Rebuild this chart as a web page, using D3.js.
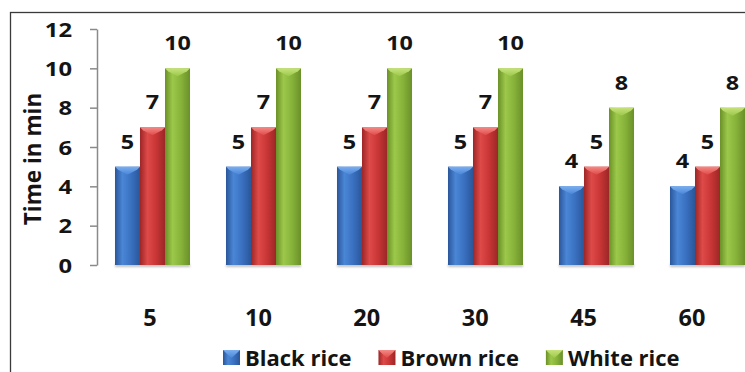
<!DOCTYPE html>
<html>
<head>
<meta charset="utf-8">
<script src="https://cdn.jsdelivr.net/npm/d3@7"></script>
<style>
  html, body { margin: 0; padding: 0; background: #fff; }
  svg { display: block; }
  text { font-family: "Open Sans", "DejaVu Sans", sans-serif; font-weight: 700; fill: #141414; }
</style>
</head>
<body>
<svg id="chart" width="745" height="372"></svg>
<script>
// Cooking time per soaking period, by rice type
const categories = ["5", "10", "20", "30", "45", "60"];
const seriesNames = ["Black rice", "Brown rice", "White rice"];
const blackRice = [5, 5, 5, 5, 4, 4];
const brownRice = [7, 7, 7, 7, 5, 5];
const whiteRice = [10, 10, 10, 10, 8, 8];
const yTicks = [0, 2, 4, 6, 8, 10, 12];
const axisTitle = "Time in min";

// dark edge, highlight, body, bevel cap
const palettes = [
  ["#2a5699", "#4a86d6", "#3a70c0", "#7aaef0"],
  ["#9c2626", "#de4a48", "#c83535", "#f58a86"],
  ["#6a9028", "#9cc84a", "#86b23a", "#c6e27a"]
];

const seriesValues = [blackRice, brownRice, whiteRice];
const rows = categories.map((c, i) => ({
  cat: c,
  values: seriesNames.map((s, k) => ({ series: s, k, value: seriesValues[k][i] }))
}));

const svg = d3.select("#chart");
const defs = svg.append("defs");

palettes.forEach((p, k) => {
  const g = defs.append("linearGradient").attr("id", "bar" + k)
    .attr("x1", 0).attr("x2", 1).attr("y1", 0).attr("y2", 0);
  g.append("stop").attr("offset", "0%").attr("stop-color", p[0]);
  g.append("stop").attr("offset", "30%").attr("stop-color", p[1]);
  g.append("stop").attr("offset", "65%").attr("stop-color", p[2]);
  g.append("stop").attr("offset", "100%").attr("stop-color", p[0]);
  const c = defs.append("linearGradient").attr("id", "cap" + k)
    .attr("x1", 0).attr("x2", 0).attr("y1", 0).attr("y2", 1);
  c.append("stop").attr("offset", "0%").attr("stop-color", p[3]);
  c.append("stop").attr("offset", "100%").attr("stop-color", p[1]);
});

const blur = defs.append("filter").attr("id", "soft")
  .attr("x", "-10%").attr("y", "-50%").attr("width", "120%").attr("height", "200%");
blur.append("feGaussianBlur").attr("stdDeviation", 1.2);

// Scales
const x = d3.scaleBand().domain(categories).range([97, 763])
  .paddingInner(0.324).paddingOuter(0.162);
const xs = d3.scaleBand().domain(seriesNames).range([0, x.bandwidth()]).padding(0);
const xLabel = d3.scalePoint().domain(categories).range([150, 692]);
const y = d3.scaleLinear().domain([0, 12]).range([265, 29]);

// Chart frame
svg.append("rect")
  .attr("x", 10.5).attr("y", 12.5).attr("width", 800).attr("height", 400)
  .attr("fill", "none").attr("stroke", "#3a3a3a").attr("stroke-width", 1.3);

// Y axis
const yAxis = svg.append("g").attr("transform", "translate(97,0)")
  .call(d3.axisLeft(y).tickValues(yTicks).tickSize(7).tickSizeOuter(0).tickFormat(d3.format("d")));
yAxis.select(".domain").attr("stroke", "#8a8a8a").attr("stroke-width", 1.5);
yAxis.selectAll(".tick line").attr("stroke", "#8a8a8a").attr("stroke-width", 1.5);
yAxis.selectAll(".tick text")
  .attr("x", 0).attr("dy", null)
  .attr("transform", "translate(-25,7) scale(1.22,1)")
  .attr("font-size", 19.5)
  .style("font-family", "'Open Sans', sans-serif").style("font-weight", 700)
  .attr("fill", "#141414");

// Axis title
svg.append("text")
  .attr("transform", `translate(41,${(y(0) + y(12)) / 2 + 12}) rotate(-90)`)
  .attr("text-anchor", "middle").attr("font-size", 22.5)
  .text(axisTitle);

// Bars
const groups = svg.append("g").selectAll("g.grp").data(rows).join("g")
  .attr("class", "grp")
  .attr("transform", d => `translate(${x(d.cat)},0)`);

// soft floor shadow under each group
groups.append("rect")
  .attr("x", 0).attr("y", y(0) - 1).attr("width", x.bandwidth()).attr("height", 3)
  .attr("fill", "#999").attr("opacity", 0.6).attr("filter", "url(#soft)");

const bars = groups.selectAll("g.bar").data(d => d.values).join("g").attr("class", "bar");

bars.append("rect")
  .attr("x", d => xs(d.series))
  .attr("y", d => y(d.value))
  .attr("width", xs.bandwidth())
  .attr("height", d => y(0) - y(d.value))
  .attr("fill", d => `url(#bar${d.k})`);

// bevelled cap on each bar top
bars.append("path")
  .attr("d", d => {
    const x0 = xs(d.series), w = xs.bandwidth(), t = y(d.value);
    return `M${x0},${t} L${x0 + w},${t} L${x0 + w - 3},${t + 3} L${x0 + w / 2},${t + 8} L${x0 + 3},${t + 3} Z`;
  })
  .attr("fill", d => `url(#cap${d.k})`);

// Value labels
bars.append("text")
  .attr("transform", d => `translate(${xs(d.series) + xs.bandwidth() / 2},${y(d.value) - 18}) scale(1.2,1)`)
  .attr("text-anchor", "middle").attr("font-size", 19.5)
  .text(d => d.value);

// Category labels
svg.append("g").selectAll("text").data(categories).join("text")
  .attr("x", d => xLabel(d)).attr("y", 326)
  .attr("text-anchor", "middle").attr("font-size", 23.5)
  .text(d => d);

// Legend
const legend = svg.append("g");
let lx = 223;
seriesNames.forEach((name, k) => {
  const item = legend.append("g").attr("transform", `translate(${lx},350)`);
  item.append("rect").attr("width", 17).attr("height", 15).attr("fill", `url(#bar${k})`);
  item.append("path").attr("d", "M0,0 L17,0 L14,3 L8.5,8 L3,3 Z").attr("fill", `url(#cap${k})`);
  const t = item.append("text").attr("x", 22).attr("y", 15.5).attr("font-size", 22).text(name);
  lx += 22 + t.node().getComputedTextLength() + 27;
});
</script>
</body>
</html>
